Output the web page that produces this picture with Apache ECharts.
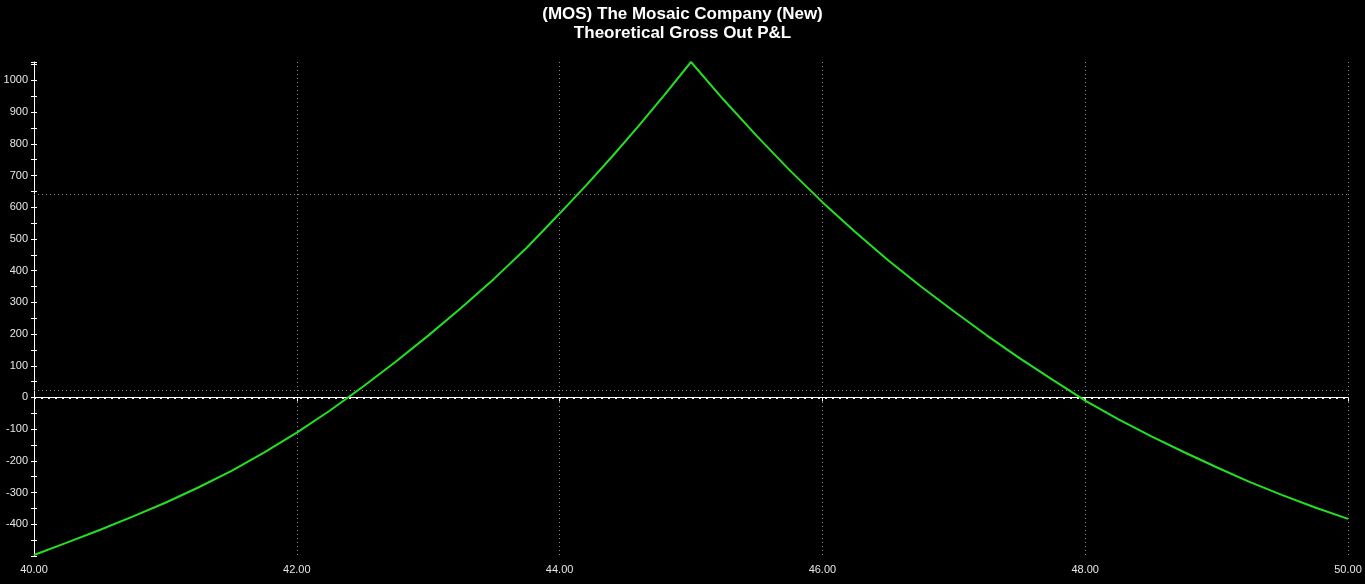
<!DOCTYPE html>
<html>
<head>
<meta charset="utf-8">
<script src="https://cdn.jsdelivr.net/npm/echarts@6/dist/echarts.min.js"></script>
<style>
html,body{margin:0;padding:0;background:#000;}
#c{width:1365px;height:584px;}
</style>
</head>
<body>
<div id="c"></div>
<script>
var titleLines = ['(MOS) The Mosaic Company (New)', 'Theoretical Gross Out P&L'];
var priceX = [40.0, 40.25, 40.5, 40.75, 41.0, 41.25, 41.5, 41.75, 42.0, 42.25, 42.5, 42.75, 43.0, 43.25, 43.5, 43.75, 44.0, 44.2, 44.4, 44.6, 44.8, 45.0, 45.25, 45.5, 45.75, 46.0, 46.25, 46.5, 46.75, 47.0, 47.25, 47.5, 47.75, 48.0, 48.25, 48.5, 48.75, 49.0, 49.25, 49.5, 49.75, 50.0];
var pnl = [-497, -458, -418, -376, -332, -284, -232, -174, -111, -42, 33, 112, 195, 282, 374, 472, 580, 668, 760, 856, 955, 1058, 938, 825, 717, 616, 522, 433, 350, 272, 196, 124, 56, -10, -68, -122, -172, -220, -266, -308, -347, -383];
var refLines = [0, 22, 642];
var xTicks = {min: 40, max: 50, interval: 2};
var yTicks = {min: -500, max: 1058, interval: 100};

var chart = echarts.init(document.getElementById('c'));
var points = priceX.map(function (x, i) { return [x, pnl[i]]; });
var font = 'Liberation Sans, Arial, sans-serif';

chart.setOption({
  backgroundColor: '#000000',
  animation: false,
  title: {
    text: titleLines.join('\n'),
    left: 'center',
    top: 0,
    textStyle: {color: '#ffffff', fontSize: 17, fontWeight: 'bold', fontFamily: font, lineHeight: 19}
  },
  grid: {left: 34, right: 17, top: 62, bottom: 28, containLabel: false},
  xAxis: {
    type: 'value',
    min: xTicks.min, max: xTicks.max, interval: xTicks.interval,
    axisLine: {show: true, lineStyle: {color: '#ffffff', width: 1}},
    axisTick: {show: true, length: 4, inside: false, lineStyle: {color: '#ffffff'}},
    axisLabel: {color: '#e6e6e6', fontSize: 11, fontFamily: font, margin: 8,
      formatter: function (v) { return v.toFixed(2); }},
    splitLine: {show: true, lineStyle: {color: '#8a8a8a', type: [1, 3], width: 1}}
  },
  yAxis: [{
    type: 'value',
    min: yTicks.min, max: yTicks.max, interval: yTicks.interval,
    axisLine: {show: true, lineStyle: {color: '#ffffff', width: 1}},
    axisTick: {show: true, length: 3, lineStyle: {color: '#ffffff'}},
    minorTick: {show: true, splitNumber: 2, length: 3, lineStyle: {color: '#ffffff'}},
    axisLabel: {color: '#e6e6e6', fontSize: 11, fontFamily: font, margin: 6, showMaxLabel: false,
      formatter: function (v) { return (v === yTicks.min || v % yTicks.interval !== 0) ? '' : String(v); }},
    splitLine: {show: false}
  }, {
    type: 'value', position: 'left', offset: 0,
    min: yTicks.min, max: yTicks.max, interval: yTicks.interval,
    axisLine: {show: false},
    axisTick: {show: true, inside: true, length: 3, lineStyle: {color: '#ffffff'}},
    minorTick: {show: true, splitNumber: 2, length: 3, lineStyle: {color: '#ffffff'}},
    axisLabel: {show: false},
    splitLine: {show: false}
  }],
  series: [{
    type: 'line',
    data: points,
    showSymbol: false,
    smooth: false,
    lineStyle: {color: '#22e022', width: 2},
    itemStyle: {color: '#22e022'},
    z: 5,
    markLine: {
      silent: true,
      symbol: ['none', 'none'],
      label: {show: false},
      animation: false,
      data: refLines.map(function (v) {
        return {yAxis: v, lineStyle: {color: v === 0 ? '#ffffff' : '#8a8a8a', type: v === 0 ? [2, 5] : [1, 3], width: v === 0 ? 2 : 1}};
      })
    }
  }]
});
</script>
</body>
</html>
